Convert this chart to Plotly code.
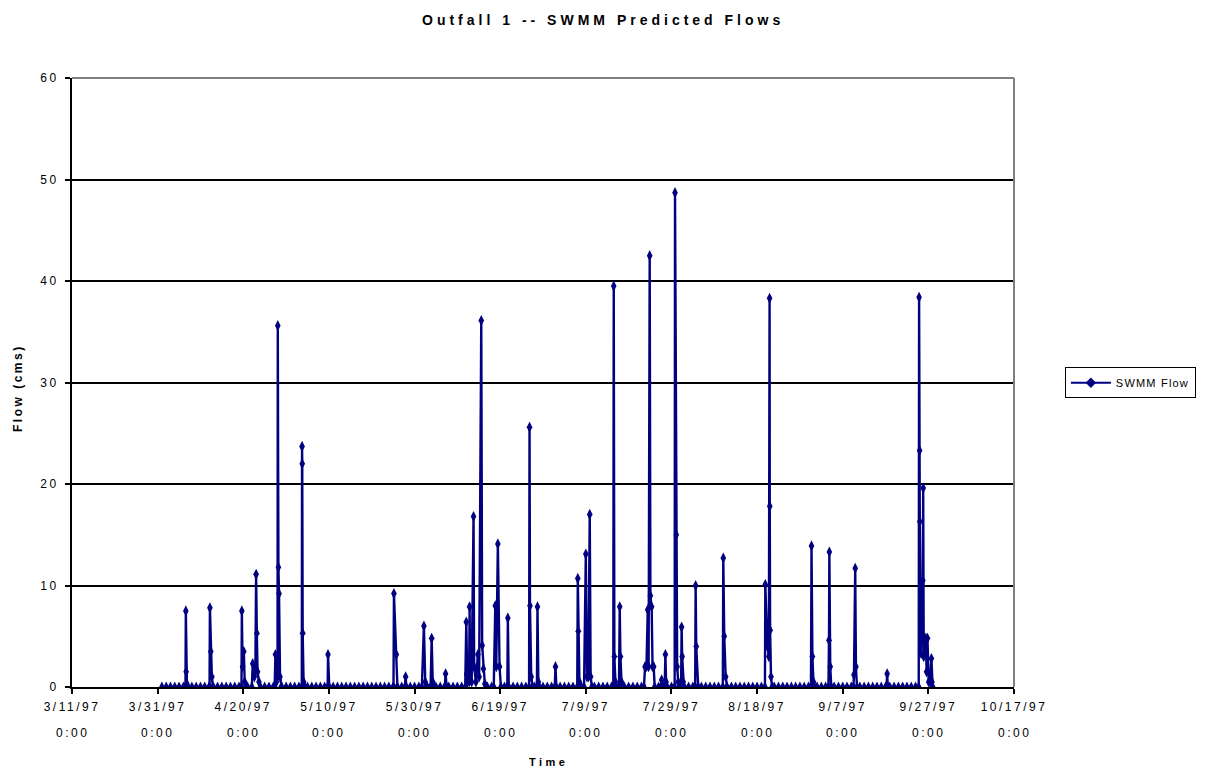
import plotly.graph_objects as go

YEAR = "1997"

# ---- data -------------------------------------------------------------
# dry-weather daily readings (flow 0 at 0:00)
apr_days = [1, 2, 3, 4, 5, 6, 7, 8, 9, 10, 11, 12, 13, 14, 15, 16, 17, 18, 19, 20,
            21, 22, 23, 24, 25, 26, 27, 28, 29, 30]
may_days = [1, 2, 3, 4, 5, 6, 7, 8, 9, 10, 11, 12, 13, 14, 15, 16, 17, 18, 19, 20,
            21, 22, 23, 24, 25, 26, 27, 28, 29, 30, 31]
jun_days = [1, 2, 3, 4, 5, 6, 7, 8, 9, 10, 11, 12, 13, 14, 15, 16, 17, 18, 19, 20,
            21, 22, 23, 24, 25, 26, 27, 28, 29, 30]
jul_days = [1, 2, 3, 4, 5, 6, 7, 8, 9, 10, 11, 12, 13, 14, 15, 16, 17, 18, 19, 20,
            21, 22, 23, 24, 25, 26, 27, 28, 29, 30, 31]
aug_days = [1, 2, 3, 4, 5, 6, 7, 8, 9, 10, 11, 12, 13, 14, 15, 16, 17, 18, 19, 20,
            21, 22, 23, 24, 25, 26, 27, 28, 29, 30, 31]
sep_days = [1, 2, 3, 4, 5, 6, 7, 8, 9, 10, 11, 12, 13, 14, 15, 16, 17, 18, 19, 20,
            21, 22, 23, 24, 25, 26, 27, 28]

# storm hydrographs (each event starts and ends at 0)
event_times = [
    "04-06 12:00", "04-06 14:00", "04-06 16:00", "04-06 20:00", "04-07 02:00",
    "04-12 03:00", "04-12 05:00", "04-12 10:00", "04-12 16:00", "04-12 22:00",
    "04-19 14:00", "04-19 16:00", "04-19 20:00", "04-20 03:00", "04-20 08:00", "04-20 14:00",
    "04-22 00:00", "04-22 05:00", "04-22 14:00", "04-22 20:00", "04-23 00:00", "04-23 04:00",
    "04-23 08:00", "04-23 16:00", "04-24 00:00",
    "04-27 08:00", "04-27 12:00", "04-27 18:00", "04-28 00:00", "04-28 01:30", "04-28 05:00",
    "04-28 08:30", "04-28 14:00", "04-28 20:00",
    "05-03 16:00", "05-03 17:30", "05-03 18:30", "05-03 21:00", "05-04 02:00", "05-04 08:00",
    "05-09 17:00", "05-09 19:00", "05-10 02:00",
    "05-25 02:00", "05-25 04:30", "05-25 18:00", "05-25 22:00",
    "05-27 18:00", "05-27 22:00", "05-28 02:00",
    "05-31 17:00", "06-01 04:30", "06-01 12:00", "06-01 18:00",
    "06-02 18:00", "06-03 00:00", "06-03 06:00", "06-03 12:00",
    "06-06 02:00", "06-06 06:00", "06-06 12:00",
    "06-10 20:00", "06-11 02:00", "06-11 04:00", "06-11 08:00", "06-11 18:00", "06-11 20:30",
    "06-12 00:00", "06-12 08:00", "06-12 18:45", "06-12 22:00", "06-13 08:00", "06-13 19:00",
    "06-14 02:00", "06-14 14:00", "06-14 19:00", "06-15 02:00", "06-15 10:00", "06-15 18:00",
    "06-17 12:00", "06-17 20:30", "06-18 02:00", "06-18 11:00", "06-18 20:30", "06-19 04:00",
    "06-20 16:00", "06-20 19:00", "06-20 23:00",
    "06-25 18:00", "06-25 20:30", "06-25 23:00", "06-26 06:00", "06-26 14:00",
    "06-27 14:00", "06-27 17:00", "06-27 22:00", "06-28 04:00",
    "07-01 18:00", "07-01 22:00", "07-02 03:00",
    "07-07 00:00", "07-07 03:00", "07-07 06:00", "07-07 12:00", "07-07 18:00",
    "07-08 14:00", "07-09 00:00", "07-09 06:00", "07-09 14:00", "07-09 22:00", "07-10 03:00",
    "07-10 10:00",
    "07-15 10:00", "07-15 12:30", "07-15 16:00", "07-15 22:00", "07-16 04:00",
    "07-16 18:00", "07-16 22:00", "07-17 02:00", "07-17 08:00", "07-17 14:00",
    "07-22 14:00", "07-22 20:00", "07-23 04:00", "07-23 11:00", "07-23 16:00", "07-23 22:00",
    "07-24 02:00", "07-24 09:00", "07-24 14:00", "07-24 20:30", "07-25 02:00",
    "07-26 14:00", "07-26 17:00", "07-26 22:00",
    "07-27 10:00", "07-27 14:00", "07-27 18:00", "07-27 22:00",
    "07-29 18:00", "07-29 20:00", "07-30 03:00", "07-30 08:00", "07-30 14:00", "07-30 20:00",
    "07-31 06:00", "07-31 09:00", "07-31 12:00", "07-31 18:00", "07-31 22:00",
    "08-03 13:00", "08-03 15:30", "08-03 19:00", "08-04 06:00",
    "08-10 00:00", "08-10 02:30", "08-10 08:00", "08-10 16:00", "08-10 22:00",
    "08-19 20:00", "08-19 22:00", "08-20 10:00", "08-20 18:00", "08-20 22:00", "08-20 23:00",
    "08-21 01:00", "08-21 06:00", "08-21 12:00",
    "08-30 14:00", "08-30 17:00", "08-30 22:00", "08-31 04:00", "08-31 10:00",
    "09-03 16:00", "09-03 19:00", "09-03 21:00", "09-04 02:00", "09-04 08:00",
    "09-09 12:00", "09-09 15:00", "09-09 22:00", "09-10 02:00", "09-10 08:00",
    "09-17 05:00", "09-17 09:00", "09-17 13:00",
    "09-24 18:00", "09-24 20:00", "09-24 23:00", "09-25 00:00", "09-25 07:00", "09-25 17:00",
    "09-25 19:00", "09-25 22:00", "09-26 02:00", "09-26 10:00", "09-26 14:00", "09-26 19:00",
    "09-27 02:00", "09-27 10:00", "09-27 17:00", "09-27 20:00", "09-27 23:00",
]
event_flows = [
    0, 7.5, 1.5, 0.3, 0,
    0, 7.8, 3.5, 1.0, 0,
    0, 7.5, 2.0, 3.5, 0.5, 0,
    0, 2.3, 1.0, 2.0, 11.1, 5.3,
    1.5, 0.5, 0,
    0, 3.2, 0.5, 1.0, 35.6, 11.8,
    9.2, 1.0, 0,
    0, 23.7, 22.0, 5.3, 0.5, 0,
    0, 3.2, 0,
    0, 9.2, 3.2, 0,
    0, 1.0, 0,
    0, 6.0, 0.5, 0,
    0, 4.8, 0.5, 0,
    0, 1.3, 0,
    0, 6.4, 1.3, 0.5, 0.5, 7.9,
    1.3, 0.5, 16.8, 2.0, 0.5, 3.2,
    1.0, 36.1, 4.1, 1.8, 0.3, 0,
    0, 8.0, 2.0, 14.1, 2.0, 0,
    0, 6.8, 0,
    0, 25.6, 8.0, 1.0, 0,
    0, 7.9, 0.5, 0,
    0, 2.0, 0,
    0, 10.7, 5.5, 0.5, 0,
    0, 13.1, 1.0, 1.0, 17.0, 1.0,
    0,
    0, 39.5, 3.0, 0.5, 0,
    0, 7.9, 3.0, 0.5, 0,
    0, 2.0, 2.0, 7.6, 2.0, 42.5,
    9.0, 7.9, 2.0, 2.0, 0,
    0, 0.7, 0,
    0, 3.2, 0.5, 0,
    0, 48.7, 15.0, 2.0, 0.5, 0,
    0, 5.9, 3.0, 0.5, 0,
    0, 10.0, 4.0, 0,
    0, 12.7, 5.0, 1.0, 0,
    0, 10.1, 4.0, 3.0, 38.3, 17.8,
    5.6, 1.0, 0,
    0, 13.9, 3.0, 0.5, 0,
    0, 4.6, 13.3, 2.0, 0,
    0, 1.2, 11.7, 2.0, 0,
    0, 1.3, 0,
    0, 38.4, 23.3, 16.3, 3.3, 10.5,
    19.6, 3.0, 4.8, 4.8, 1.5, 4.8,
    0.5, 0.5, 2.8, 0.5, 0,
]

tick_dates = ["1997-03-11", "1997-03-31", "1997-04-20", "1997-05-10", "1997-05-30",
              "1997-06-19", "1997-07-09", "1997-07-29", "1997-08-18", "1997-09-07",
              "1997-09-27", "1997-10-17"]
tick_dates_text = ["3/11/97", "3/31/97", "4/20/97", "5/10/97", "5/30/97", "6/19/97",
                   "7/9/97", "7/29/97", "8/18/97", "9/7/97", "9/27/97", "10/17/97"]
tick_time_text = ["0:00"] * len(tick_dates)
y_ticks = [0, 10, 20, 30, 40, 50, 60]

# ---- assemble series --------------------------------------------------
def stamp(md):
    return f"{YEAR}-{md}"

ev_t = [stamp(t) for t in event_times]
windows = []
start = None
for t, f in zip(ev_t, event_flows):
    if f == 0:
        if start is None:
            start = t
        else:
            windows.append((start, t))
            start = None

points = list(zip(ev_t, event_flows))
for mon, days in [("04", apr_days), ("05", may_days), ("06", jun_days),
                  ("07", jul_days), ("08", aug_days), ("09", sep_days)]:
    for d in days:
        t = f"{YEAR}-{mon}-{d:02d} 00:00"
        if any(a <= t <= b for a, b in windows):
            continue
        points.append((t, 0))
points.sort(key=lambda p: p[0])
xs = [p[0] for p in points]
ys = [p[1] for p in points]

# ---- figure -----------------------------------------------------------
FONT = "Liberation Sans, Arial, sans-serif"
NAVY = "#000080"


def sp(text, ls):
    return f'<span style="letter-spacing:{ls}px">{text}</span>'


fig = go.Figure()
fig.add_trace(go.Scatter(
    x=xs, y=ys, mode="lines+markers", name="SWMM Flow", showlegend=False,
    line=dict(color=NAVY, width=2.4),
    marker=dict(symbol="diamond-tall", size=8, color=NAVY),
))
fig.add_trace(go.Scatter(
    x=[None], y=[None], mode="lines+markers", name=sp("SWMM Flow", 1.2),
    line=dict(color=NAVY, width=2),
    marker=dict(symbol="diamond", size=8, color=NAVY),
))

fig.update_layout(
    width=1221, height=772,
    margin=dict(l=72, r=207, t=78, b=85),
    paper_bgcolor="white", plot_bgcolor="white",
    font=dict(family=FONT, size=12, color="black"),
    showlegend=True,
    legend=dict(x=1.054, y=0.525, xanchor="left", yanchor="top",
                bgcolor="white", bordercolor="black", borderwidth=1,
                font=dict(size=11), itemwidth=40),
    xaxis=dict(
        type="date", range=["1997-03-11", "1997-10-17"],
        tickmode="array", tickvals=tick_dates,
        ticktext=[sp(t, 2.5) for t in tick_dates_text],
        ticks="outside", ticklen=5, tickwidth=1.5, tickcolor="black",
        showline=True, linecolor="black", linewidth=2,
        showgrid=False, zeroline=False,
        tickfont=dict(size=12), ticklabelstandoff=3,
    ),
    yaxis=dict(
        range=[0, 60], tickmode="array", tickvals=y_ticks,
        ticktext=[sp(str(v), 2.5) for v in y_ticks],
        ticks="outside", ticklen=5, tickwidth=1.5, tickcolor="black",
        showline=True, linecolor="black", linewidth=2,
        showgrid=True, gridcolor="black", gridwidth=2, zeroline=False,
        tickfont=dict(size=12), ticklabelstandoff=4,
    ),
)

# plot-area border (top and right, gray)
fig.add_shape(type="line", xref="paper", yref="paper", x0=0, x1=1, y0=1, y1=1,
              line=dict(color="#808080", width=2), layer="above")
fig.add_shape(type="line", xref="paper", yref="paper", x0=1, x1=1, y0=0, y1=1,
              line=dict(color="#808080", width=2), layer="above")

# second row of x tick labels
for d, t in zip(tick_dates, tick_time_text):
    fig.add_annotation(x=d, y=-0.0755, xref="x", yref="paper", text=sp(t, 2.5),
                       showarrow=False, font=dict(size=12), yanchor="middle")

# titles
fig.add_annotation(x=0.5637, y=1.095, xref="paper", yref="paper",
                   text="<b>" + sp("Outfall 1 -- SWMM Predicted Flows", 4) + "</b>",
                   showarrow=False, font=dict(size=14), yanchor="middle")
fig.add_annotation(x=0.506, y=-0.123, xref="paper", yref="paper",
                   text="<b>" + sp("Time", 3.5) + "</b>",
                   showarrow=False, font=dict(size=11), yanchor="middle")
fig.add_annotation(x=-0.0573, y=0.491, xref="paper", yref="paper",
                   text="<b>" + sp("Flow (cms)", 2.5) + "</b>", textangle=-90,
                   showarrow=False, font=dict(size=12), xanchor="center", yanchor="middle")

fig.write_html("out.html")
